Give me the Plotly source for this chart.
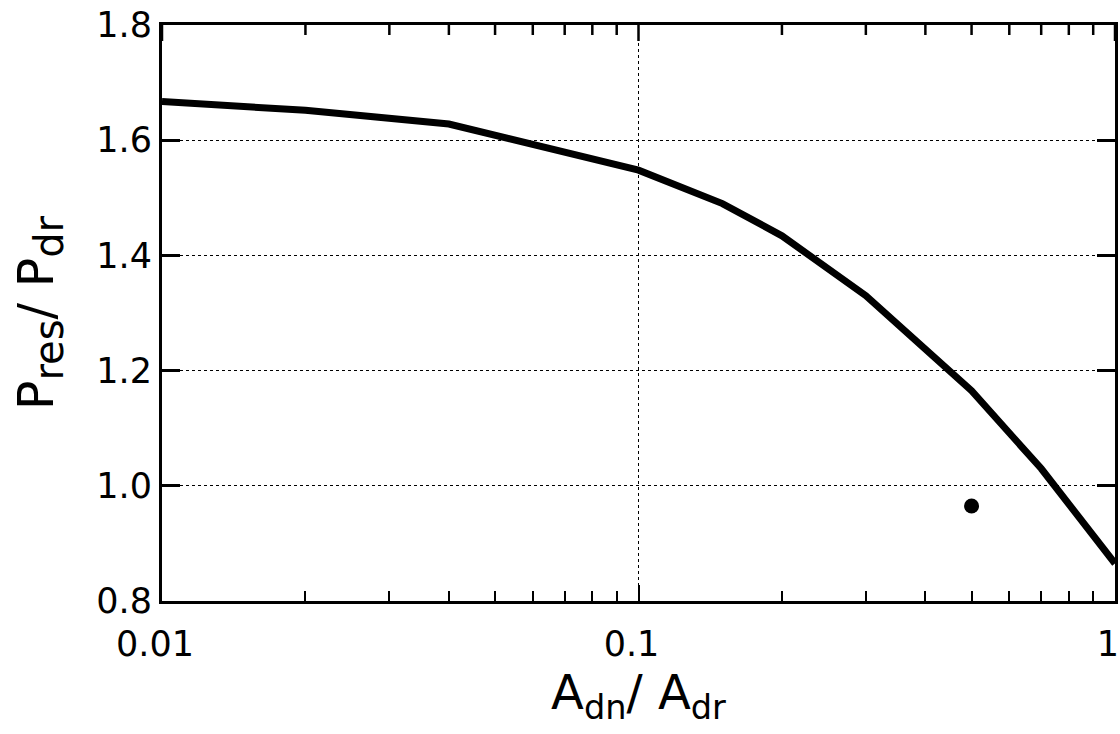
import plotly.graph_objects as go

# Area ratio A_dn/A_dr and computed pressure ratio P_res/P_dr
area_ratio = [0.01, 0.02, 0.04, 0.08, 0.1, 0.15, 0.2, 0.3, 0.5, 0.7, 1.0]
pressure_ratio = [1.667, 1.652, 1.628, 1.568, 1.548, 1.49, 1.434, 1.33, 1.165, 1.03, 0.865]

# Single measured point
meas_area = [0.5]
meas_pressure = [0.965]

x_major = [0.01, 0.1, 1]
x_major_text = ["0.01", "0.1", "1"]
x_minor = [m * d for d in (0.01, 0.1) for m in range(2, 10)]
y_ticks = [0.8, 1.0, 1.2, 1.4, 1.6, 1.8]

font_family = "DejaVu Sans, Liberation Sans, Arial, sans-serif"
plot_h = 734 - 25 - 133

fig = go.Figure()
fig.add_trace(go.Scatter(
    x=area_ratio, y=pressure_ratio, mode="lines",
    line=dict(color="black", width=7), showlegend=False,
))
fig.add_trace(go.Scatter(
    x=meas_area, y=meas_pressure, mode="markers",
    marker=dict(color="black", size=15), showlegend=False,
))

fig.update_layout(
    width=1120, height=734,
    margin=dict(l=162, r=5, t=25, b=133),
    paper_bgcolor="white", plot_bgcolor="white",
    font=dict(family=font_family, color="black", size=35),
)

fig.update_xaxes(
    type="log", range=[-2, 0],
    tickmode="array", tickvals=x_major, ticktext=x_major_text,
    ticks="inside", ticklen=16, tickwidth=2, tickcolor="black",
    minor=dict(tickmode="array", tickvals=x_minor, ticks="inside",
               ticklen=10, tickwidth=2, tickcolor="black", showgrid=False),
    showline=True, linecolor="black", linewidth=3, mirror=True,
    showgrid=True, gridcolor="black", griddash="dot", gridwidth=1,
    zeroline=False, automargin=False,
    ticklabelstandoff=10, ticklabelshift=-7,
    tickfont=dict(size=35),
    title=dict(text="A<sub>dn</sub>/ A<sub>dr</sub>", font=dict(size=48), standoff=8),
)

# Inward ticks along the top frame, placed at the same tick values
for vals, length in ((x_minor, 10), (x_major, 16)):
    for v in vals:
        fig.add_shape(
            type="line", xref="x", yref="paper",
            x0=v, x1=v, y0=1, y1=1 - length / plot_h,
            line=dict(color="black", width=2.5), layer="above",
        )

fig.update_yaxes(
    range=[0.8, 1.8],
    tickmode="array", tickvals=y_ticks, tickformat=".1f",
    ticks="inside", ticklen=18, tickwidth=3, tickcolor="black",
    showline=True, linecolor="black", linewidth=3, mirror="ticks",
    showgrid=True, gridcolor="black", griddash="dot", gridwidth=1,
    zeroline=False, ticklabelstandoff=0, automargin=False,
    tickfont=dict(size=35),
    title=dict(
        text="P<sub><span style='font-size:40px'>res</span></sub>/ "
             "P<sub><span style='font-size:40px'>dr</span></sub>",
        font=dict(size=49), standoff=28,
    ),
)

fig.write_html("out.html")
